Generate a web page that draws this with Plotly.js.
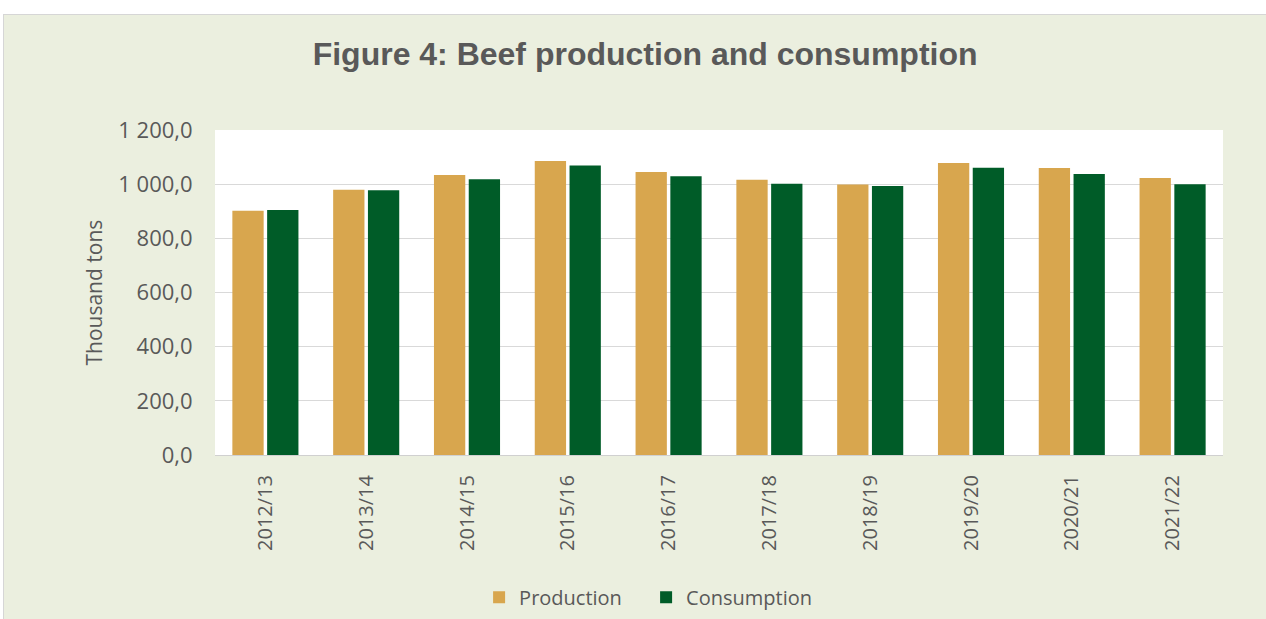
<!DOCTYPE html>
<html>
<head>
<meta charset="utf-8">
<script src="https://cdn.plot.ly/plotly-3.0.1.min.js"></script>
<style>
html,body{margin:0;padding:0;background:#ffffff;width:1266px;height:619px;overflow:hidden;}
#frame{position:absolute;left:3px;top:14px;width:1263px;height:605px;background:#EBEFDF;border-left:1px solid #D6D6D6;border-top:1px solid #D6D6D6;box-sizing:border-box;}
#chart{position:absolute;left:0;top:0;width:1262px;height:604px;}
</style>
</head>
<body>
<div id="frame"><div id="chart"></div></div>
<script>
const seasons = ["2012/13","2013/14","2014/15","2015/16","2016/17","2017/18","2018/19","2019/20","2020/21","2021/22"];
const production = [902, 979, 1034, 1086, 1045, 1016, 999, 1078, 1060, 1023];
const consumption = [905, 978, 1018, 1069, 1029, 1002, 993, 1061, 1038, 1000];
const yTicks = [0, 200, 400, 600, 800, 1000, 1200];

const font = "Open Sans, Liberation Sans, Arial, sans-serif";
const traces = [
  {type:"bar", name:"Production", x:seasons, y:production, marker:{color:"#D8A64E"}, hoverinfo:"y"},
  {type:"bar", name:"Consumption", x:seasons, y:consumption, marker:{color:"#005C28"}, hoverinfo:"y"}
];
const layout = {
  width:1262, height:604,
  paper_bgcolor:"#EBEFDF", plot_bgcolor:"#FFFFFF",
  margin:{l:211, r:43, t:115, b:164},
  separators:", ",
  barmode:"group", bargap:0.31, bargroupgap:0.1,
  title:{text:"<b>Figure 4: Beef production and consumption</b>", x:0.508, xanchor:"center", y:0.936, yanchor:"middle",
         font:{family:"Liberation Sans, Arial, sans-serif", size:32, color:"#595959"}},
  showlegend:true,
  legend:{orientation:"h", xref:"paper", x:0.262, xanchor:"left", yref:"container", y:0.036, yanchor:"middle",
          font:{family:font, size:20, color:"#595959"}, bgcolor:"rgba(0,0,0,0)",
          itemwidth:30, entrywidth:122, entrywidthmode:"pixels", traceorder:"normal"},
  annotations:[{text:"Thousand tons", textangle:-90, xref:"paper", yref:"paper", x:-0.121, y:0.5,
                xanchor:"center", yanchor:"middle", showarrow:false,
                font:{family:font, size:21, color:"#595959"}}],
  xaxis:{type:"category", tickangle:-90, tickfont:{family:font, size:20, color:"#595959"},
         ticks:"outside", ticklen:11, tickcolor:"rgba(0,0,0,0)", showline:true, linecolor:"#D0D0D0", linewidth:1,
         showgrid:false, fixedrange:true},
  yaxis:{range:[0,1200], tickvals:yTicks, tickformat:",.1f", tickfont:{family:font, size:22, color:"#595959"},
         showgrid:true, gridcolor:"#D9D9D9", gridwidth:1, zeroline:false, ticks:"outside", ticklen:17, tickcolor:"rgba(0,0,0,0)",
         automargin:false, fixedrange:true}
};
Plotly.newPlot("chart", traces, layout, {displayModeBar:false, staticPlot:true});
</script>
</body>
</html>
